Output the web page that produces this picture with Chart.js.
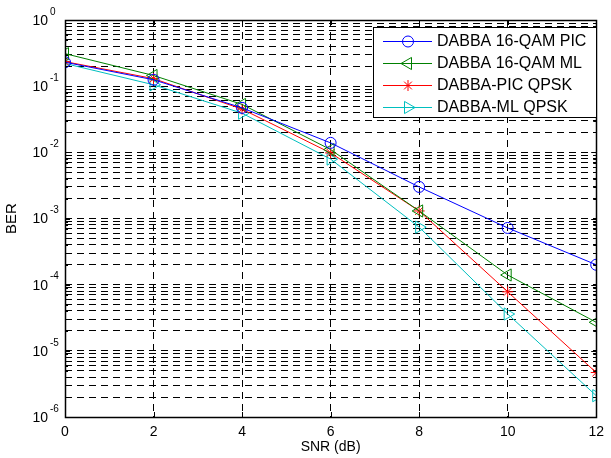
<!DOCTYPE html>
<html><head><meta charset="utf-8">
<script src="https://cdn.jsdelivr.net/npm/chart.js@4.4.1/dist/chart.umd.min.js"></script>
<style>html,body{margin:0;padding:0;background:#fff}#wrap{width:611px;height:458px;position:relative}</style>
</head><body><div id="wrap"><canvas id="c"></canvas></div>
<script>
const snr = [0, 2, 4, 6, 8, 10, 12];
const ber16QamPIC = [0.23, 0.125, 0.047, 0.0139, 0.0030, 0.00072, 0.00020];
const ber16QamML  = [0.31, 0.145, 0.053, 0.011, 0.0013, 0.00014, 0.000027];
const berQpskPIC  = [0.235, 0.13, 0.045, 0.0098, 0.0013, 0.000078, 0.0000047];
const berQpskML   = [0.22, 0.105, 0.039, 0.0079, 0.00074, 0.000036, 0.0000021];
const seriesNames = ['DABBA 16-QAM PIC', 'DABBA 16-QAM ML', 'DABBA-PIC QPSK', 'DABBA-ML QPSK'];
const xTicks = [0, 2, 4, 6, 8, 10, 12];
const yExponents = [0, -1, -2, -3, -4, -5, -6];
const xTitle = 'SNR (dB)';
const yTitle = 'BER';

const FONT = "'Liberation Sans', Arial, Helvetica, sans-serif";

function mk(label, data, color, style, rot, r) {
  return {
    label, data: snr.map((x, i) => ({x, y: data[i]})),
    borderColor: color, backgroundColor: 'rgba(0,0,0,0)', borderWidth: 1,
    pointStyle: style, pointRotation: rot, pointRadius: r, pointHoverRadius: r,
    pointBorderColor: color, pointBackgroundColor: 'rgba(0,0,0,0)', pointBorderWidth: 1,
    tension: 0, fill: false
  };
}
const datasets = [
  mk(seriesNames[0], ber16QamPIC, '#0000ff', 'circle', 0, 5.5),
  mk(seriesNames[1], ber16QamML, '#008000', 'triangle', -90, 7),
  mk(seriesNames[2], berQpskPIC, '#ff0000', 'star', 0, 5.5),
  mk(seriesNames[3], berQpskML, '#00bfbf', 'triangle', 90, 7)
];

const minY = Math.pow(10, Math.min(...yExponents));
const maxY = Math.pow(10, Math.max(...yExponents));

const framePlugin = {
  id: 'frame',
  beforeDraw(chart) {
    const c = chart.ctx; c.save(); c.fillStyle = '#fff'; c.fillRect(0, 0, chart.width, chart.height); c.restore();
  },
  afterDatasetsDraw(chart) {
    const c = chart.ctx, a = chart.chartArea, xs = chart.scales.x, ys = chart.scales.y;
    c.save();
    c.strokeStyle = '#000'; c.lineWidth = 1; c.setLineDash([]);
    c.beginPath();
    ys.ticks.forEach(t => {
      const y = Math.round(ys.getPixelForValue(t.value)) + 0.5;
      const m = Math.abs(Math.log10(t.value) - Math.round(Math.log10(t.value))) < 1e-6;
      const L = m ? 5 : 3;
      c.moveTo(a.left, y); c.lineTo(a.left + L, y);
      c.moveTo(a.right, y); c.lineTo(a.right - L, y);
    });
    xs.ticks.forEach(t => {
      const x = Math.round(xs.getPixelForValue(t.value)) + 0.5;
      c.moveTo(x, a.bottom); c.lineTo(x, a.bottom - 5);
      c.moveTo(x, a.top); c.lineTo(x, a.top + 5);
    });
    c.stroke();
    c.lineWidth = 1.5;
    c.strokeRect(Math.round(a.left) + 0.5, Math.round(a.top) + 0.5, Math.round(a.right - a.left), Math.round(a.bottom - a.top));
    c.fillStyle = '#000'; c.textBaseline = 'middle';
    yExponents.forEach(e => {
      const y = ys.getPixelForValue(Math.pow(10, e));
      c.font = '14px ' + FONT; c.textAlign = 'right';
      c.fillText('10', a.left - 17, y + 1);
      c.font = '10px ' + FONT; c.textAlign = 'left';
      c.fillText(String(e), a.left - 15, y - 8);
    });
    // legend
    const bx = 373.5, by = 27.5, bw = 223, bh = 90;
    c.fillStyle = '#fff'; c.fillRect(bx, by, bw, bh);
    c.lineWidth = 1; c.strokeStyle = '#000'; c.strokeRect(bx, by, bw, bh);
    chart.data.datasets.forEach((ds, i) => {
      const y = 41 + i * 22;
      c.strokeStyle = ds.borderColor; c.lineWidth = 1;
      c.beginPath(); c.moveTo(383, y + 0.5); c.lineTo(432, y + 0.5); c.stroke();
      c.fillStyle = 'rgba(0,0,0,0)';
      Chart.helpers.drawPoint(c, {pointStyle: ds.pointStyle, rotation: ds.pointRotation, radius: ds.pointRadius, borderWidth: 1}, 408, y + 0.5);
      c.fillStyle = '#000'; c.font = '16px ' + FONT; c.textAlign = 'left'; c.textBaseline = 'middle';
      c.fillText(ds.label, 437, y + 1);
    });
    c.restore();
  }
};

new Chart(document.getElementById('c'), {
  type: 'line',
  data: {datasets},
  options: {
    responsive: true, maintainAspectRatio: false, animation: false,
    layout: {padding: {top: 20, right: 9, left: 0, bottom: 0}},
    plugins: {legend: {display: false}, tooltip: {enabled: false}},
    scales: {
      x: {
        type: 'linear', min: xTicks[0], max: xTicks[xTicks.length - 1],
        afterBuildTicks: s => { s.ticks = xTicks.map(v => ({value: v})); },
        afterFit: s => { s.height = 41; },
        ticks: {color: '#000', font: {family: FONT, size: 14}, padding: 7, maxRotation: 0, autoSkip: false},
        grid: {color: ctx => (ctx.tick && (ctx.tick.value === xTicks[0] || ctx.tick.value === xTicks[xTicks.length-1])) ? 'rgba(0,0,0,0)' : '#000', lineWidth: 1, drawTicks: false},
        border: {display: false, dash: [7, 5]},
        title: {display: true, text: xTitle, color: '#000', font: {family: FONT, size: 14}, padding: {top: 0, bottom: 2}}
      },
      y: {
        type: 'logarithmic', min: minY, max: maxY,
        afterBuildTicks: s => {
          const t = [];
          for (let e = Math.min(...yExponents); e < Math.max(...yExponents); e++)
            for (let m = 1; m <= 9; m++) t.push({value: m * Math.pow(10, e)});
          t.push({value: maxY});
          s.ticks = t;
        },
        afterFit: s => { s.width = 65; },
        ticks: {display: false},
        grid: {color: '#000', lineWidth: 1, drawTicks: false},
        border: {display: false, dash: [7, 5]},
        title: {display: true, text: yTitle, color: '#000', font: {family: FONT, size: 15}, padding: {top: 3, bottom: 0}}
      }
    }
  },
  plugins: [framePlugin]
});
</script>
</body></html>
